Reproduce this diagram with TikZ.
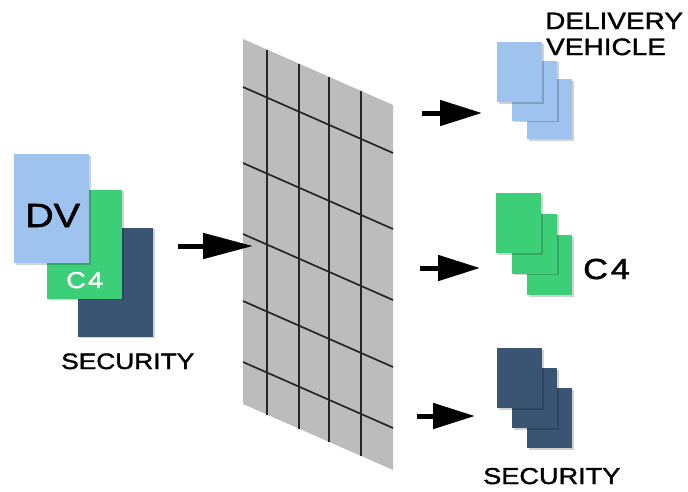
\documentclass[tikz,border=0pt]{standalone}
\usepackage{fontspec}
\setmainfont{Liberation Sans}
\newfontfamily\lblfont[FakeStretch=1.18,FakeBold=1.6]{Liberation Sans}
\newfontfamily\widefont[FakeStretch=1.18,FakeBold=1.6,LetterSpace=10]{Liberation Sans}
\usetikzlibrary{arrows.meta}
\definecolor{dvblue}{HTML}{9DC3EE}
\definecolor{cgreen}{HTML}{3DCF78}
\definecolor{secdark}{HTML}{3A5473}
\definecolor{gridgray}{HTML}{BCBCBC}
\definecolor{gridline}{HTML}{262626}
\tikzset{
  card/.style={draw=none, inner sep=0pt, minimum width=75pt, minimum height=109pt},
  small card/.style={draw=none, inner sep=0pt, minimum width=45pt, minimum height=60pt},
  shadowed/.style={preaction={fill=black, opacity=0.18, transform canvas={shift={(1.5pt,-1.5pt)}}}},
  flow/.style={line width=5pt, -{Triangle[length=42pt,width=25pt]}},
  bigflow/.style={line width=5pt, -{Triangle[length=50pt,width=25pt]}},
  gridrule/.style={draw=gridline, line width=1.7pt},
  lbl/.style={inner sep=0pt, anchor=base west, font=\lblfont\fontsize{22.3}{22.3}\selectfont}
}
\begin{document}
\begin{tikzpicture}[x=1pt,y=-1pt]
\useasboundingbox (0,0) rectangle (688,491);
% grid panel
\fill[gridgray] (243,39) -- (393,105) -- (393,470) -- (243,404) -- cycle;
\foreach \xx in {267,299,329,361}{
  \draw[gridrule] (\xx,{39+0.44*(\xx-243)}) -- (\xx,{404+0.44*(\xx-243)});
}
\foreach \yy in {87,163,234,301,362}{
  \draw[gridrule] (243,\yy) -- (393,\yy+66);
}
% left stack
\node[card, fill=secdark, shadowed] (secL) at (115.5,282) {};
\node[card, fill=cgreen, shadowed] (c4L) at (84.5,244) {};
\node[card, fill=dvblue, shadowed] (dvL) at (51.5,208.5) {};
\node[inner sep=0pt, anchor=base west, font=\lblfont\fontsize{33.5}{33.5}\selectfont] (dvtxt) at (25,227) {DV};
\node[inner sep=0pt, anchor=base west, text=white, font=\widefont\fontsize{23}{23}\selectfont] (c4txt) at (66,288) {C4};
\node[lbl] (secLtxt) at (61,369) {SECURITY};
% arrows
\coordinate (inS) at (178,246);
\coordinate (inE) at (253,246);
\draw[bigflow] (inS) -- (inE);
\coordinate (o1S) at (422,113); \coordinate (o1E) at (482,113);
\coordinate (o2S) at (420,268); \coordinate (o2E) at (480,268);
\coordinate (o3S) at (417,416); \coordinate (o3E) at (475,416);
\draw[flow] (o1S) -- (o1E);
\draw[flow] (o2S) -- (o2E);
\draw[flow] (o3S) -- (o3E);
% right stacks: blue
\node[small card, fill=dvblue, shadowed] (b3) at (549.5,109) {};
\node[small card, fill=dvblue, shadowed] (b2) at (534.5,90.5) {};
\node[small card, fill=dvblue, shadowed] (b1) at (519.5,72) {};
% green
\node[small card, fill=cgreen, shadowed] (g3) at (549.5,265) {};
\node[small card, fill=cgreen, shadowed] (g2) at (534.5,243.5) {};
\node[small card, fill=cgreen, shadowed] (g1) at (518.5,223) {};
% dark
\node[small card, fill=secdark, shadowed] (d3) at (549.5,418) {};
\node[small card, fill=secdark, shadowed] (d2) at (534.5,398) {};
\node[small card, fill=secdark, shadowed] (d1) at (519.5,378) {};
% labels right
\node[lbl, font=\lblfont\fontsize{23.7}{23.7}\selectfont] (del) at (545,29) {DELIVERY};
\node[lbl, font=\lblfont\fontsize{23.7}{23.7}\selectfont] (veh) at (546,55) {VEHICLE};
\node[inner sep=0pt, anchor=base west, font=\widefont\fontsize{29}{29}\selectfont] (c4R) at (583,279) {C4};
\node[lbl, font=\lblfont\fontsize{23}{23}\selectfont] (secR) at (483,484) {SECURITY};
\end{tikzpicture}
\end{document}
